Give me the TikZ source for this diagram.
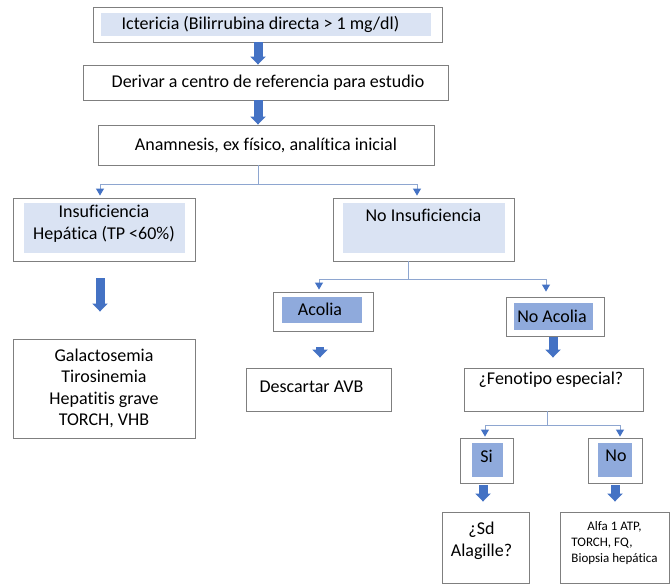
\documentclass[tikz,border=0pt]{standalone}
\usepackage{fontspec}
\setmainfont{Carlito}[Ligatures=NoCommon]
\usetikzlibrary{arrows.meta}
\definecolor{lightfill}{HTML}{DAE3F3}
\definecolor{darkfill}{HTML}{8FAADC}
\definecolor{arrowblue}{HTML}{4472C4}
\definecolor{connblue}{HTML}{8EA6D0}
\definecolor{boxgray}{HTML}{7F7F7F}
\begin{document}
\begin{tikzpicture}[x=1pt,y=-1pt,
  box/.style={draw=boxgray, line width=0.9pt, fill=white, inner sep=0pt},
  wh/.style 2 args={minimum width=#1, minimum height=#2},
  inset/.style n args={5}{path picture={\fill[#1] ([shift={(#2,-#3)}]path picture bounding box.north west) rectangle ([shift={(-#4,#5)}]path picture bounding box.south east);}},
  txt/.style={inner sep=0pt, font=\fontsize{18}{21.5}\selectfont, align=center},
  small/.style={inner sep=0pt, font=\fontsize{13}{16}\selectfont, align=left},
  blk/.style={draw=arrowblue, line width=9pt, -{Triangle[length=8pt,width=15pt]}},
  conn/.style={draw=connblue, line width=1pt},
  carr/.style={conn, -{Triangle[length=7pt,width=8pt,color=arrowblue]}}]
\useasboundingbox[fill=white] (0,0) rectangle (670,587);

% boxes
\node[box, wh={349pt}{35pt}, inset={lightfill}{8pt}{6pt}{11pt}{6pt},
  label={[name=t1,txt,xshift=-7pt]center:Ictericia (Bilirrubina directa > 1 mg/dl)}] (b1) at (267.5,24.5) {};
\node[box, wh={365pt}{35pt},
  label={[name=t2,txt,xshift=2.5pt]center:Derivar a centro de referencia para estudio}] (b2) at (265.5,82.5) {};
\node[box, wh={336pt}{40pt},
  label={[name=t3,txt]center:Anamnesis, ex físico, analítica inicial}] (b3) at (266,145) {};
\node[box, wh={182pt}{63pt}, inset={lightfill}{11pt}{5pt}{10pt}{8pt},
  label={[name=t4,txt,yshift=5.5pt]center:Insuficiencia\\Hepática (TP <60\%)}] (insuf) at (104,229.5) {};
\node[box, wh={181pt}{63pt}, inset={lightfill}{10pt}{5pt}{9pt}{8pt},
  label={[name=t5,txt,yshift=14.5pt]center:No Insuficiencia}] (noins) at (423.5,229.5) {};
\node[box, wh={182pt}{99pt},
  label={[name=t6,txt]center:Galactosemia\\Tirosinemia\\Hepatitis grave\\TORCH, VHB}] (gal) at (104,388.5) {};
\node[box, wh={100pt}{39pt}, inset={darkfill}{9pt}{5pt}{11pt}{8pt},
  label={[name=t7,txt,xshift=-3pt,yshift=2.5pt]center:Acolia}] (acolia) at (323,311.5) {};
\node[box, wh={145pt}{43pt},
  label={[name=t8,txt,xshift=-7pt,yshift=2.5pt]center:Descartar AVB}] (desc) at (318.5,389.5) {};
\node[box, wh={98pt}{39pt}, inset={darkfill}{8pt}{6pt}{11pt}{6pt},
  label={[name=t9,txt,xshift=-3pt]center:No Acolia}] (noacolia) at (555,316.5) {};
\node[box, wh={179pt}{43pt},
  label={[name=t10,txt,xshift=-2.5pt,yshift=9.5pt]center:¿Fenotipo especial?}] (fen) at (553.5,389.5) {};
\node[box, wh={53pt}{45pt}, inset={darkfill}{12pt}{5pt}{10pt}{6pt},
  label={[name=t11,txt,yshift=4.5pt]center:Si}] (si) at (486.5,460.5) {};
\node[box, wh={54pt}{45pt}, inset={darkfill}{10pt}{5pt}{10pt}{6pt},
  label={[name=t12,txt,xshift=1pt,yshift=4.5pt]center:No}] (no) at (615,460.5) {};
\node[box, wh={87pt}{71pt},
  label={[name=t13,txt,xshift=-4pt,yshift=6.5pt]center:¿Sd\\Alagille?}] (sd) at (485.5,547.5) {};
\node[box, wh={109pt}{71pt},
  label={[name=t14,small,yshift=4.5pt]center:\hspace*{16pt}Alfa 1 ATP,\\TORCH, FQ,\\Biopsia hepática}] (alfa) at (614.5,547.5) {};

% block arrows
\draw[blk] ([xshift=-9.5pt]b1.south) -- ([xshift=-7.5pt]b2.north);
\draw[blk] ([xshift=-7.5pt]b2.south) -- ([xshift=-8pt]b3.north);
\draw[blk, shorten <=17pt, shorten >=27pt] ([xshift=-4pt]insuf.south) -- ([xshift=-4pt]gal.north);
\draw[blk, line width=8pt, shorten <=16pt, shorten >=10pt] ([xshift=-3pt]acolia.south) -- ([xshift=1.5pt]desc.north);
\draw[blk, shorten <=1pt, shorten >=10pt] ([xshift=-2pt]noacolia.south) -- ([xshift=-0.5pt]fen.north);
\draw[blk, shorten <=2pt, shorten >=10pt] ([xshift=-3.5pt]si.south) -- ([xshift=-2.5pt]sd.north);
\draw[blk, shorten <=2pt, shorten >=10pt] (no.south) -- ([xshift=0.5pt]alfa.north);

% thin connectors
\coordinate (j1) at (258,184);
\coordinate (j2) at (408,279);
\coordinate (j3) at (547,425);
\draw[conn] ([xshift=-8pt]b3.south) -- (j1);
\draw[carr, shorten >=2pt] (j1) -| ([xshift=-4pt]insuf.north);
\draw[carr, shorten >=2pt] (j1) -| ([xshift=-6.5pt]noins.north);
\draw[conn] ([xshift=-15.5pt]noins.south) -- (j2);
\draw[carr, shorten >=2pt] (j2) -| ([xshift=-4pt]acolia.north);
\draw[carr, shorten >=5pt] (j2) -| ([xshift=-9pt]noacolia.north);
\draw[conn] ([xshift=-6.5pt]fen.south) -- (j3);
\draw[carr, shorten >=1pt] (j3) -| ([xshift=-1.5pt]si.north);
\draw[carr, shorten >=1pt] (j3) -| ([xshift=5pt]no.north);
\end{tikzpicture}
\end{document}
